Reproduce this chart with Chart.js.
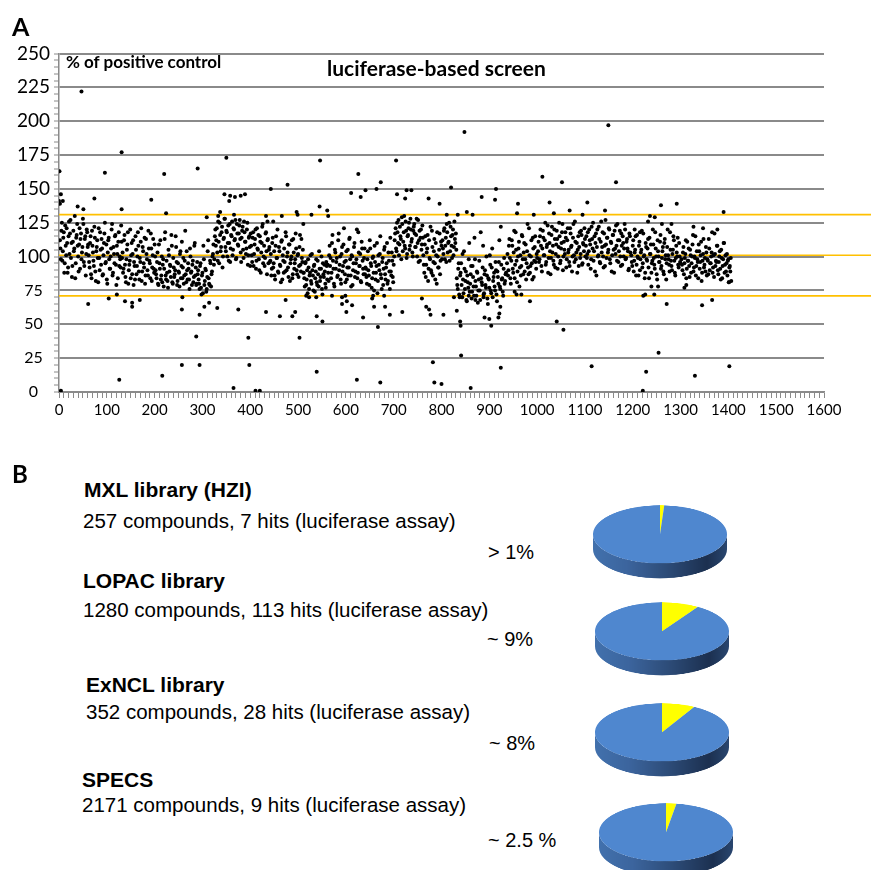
<!DOCTYPE html>
<html><head><meta charset="utf-8">
<script src="https://cdn.jsdelivr.net/npm/chart.js@4.4.1/dist/chart.umd.min.js"></script>
<style>
html,body{margin:0;padding:0;background:#fff;}
body{width:871px;height:870px;position:relative;overflow:hidden;}
.abs{position:absolute;white-space:nowrap;line-height:1;color:#000;}
.panel{font-family:Lato,sans-serif;font-weight:700;}
.lat{font-family:Lato,sans-serif;font-weight:700;}
.lib{font-family:"Liberation Sans",Arial,sans-serif;}
canvas.pie{position:absolute;transform:scaleY(0.433);transform-origin:0 0;}
</style></head><body>
<canvas id="scatter" width="871" height="430" style="position:absolute;left:0;top:0"></canvas>
<div id="overlay"></div>
<script>
// ---------- DATA (panel A) ----------
const yTickLabels = [0,25,50,75,100,125,150,175,200,225,250];
const xTickLabels = [0,100,200,300,400,500,600,700,800,900,1000,1100,1200,1300,1400,1500,1600];
const thresholdLines = [131, 101, 71];
const bandStep = 2;
// compounds read in two interleaved passes (even / odd compound numbers)
const bandStartEven = [2,62,132,202,292,322,402,442,512,562,642,702,762,802,832,937,1002,1102,1197,1302];
const bandValuesEven = [
 [112,98,125,104,118,95,108,121,88,115,102,127,110,93,119,106,84,114,124,100,109,91,117,103,128,96,113,86,120,107],
 [101,92,115,84,108,97,122,89,104,112,81,99,118,94,106,87,110,125,96,83,103,114,91,100,120,86,107,95,116,79,102,111,93,98,123],
 [99,88,112,94,81,105,118,90,97,84,110,102,79,93,115,87,100,108,83,96,121,89,104,92,80,113,98,86,106,95,117,82,101,91,109],
 [90,84,103,79,95,112,86,81,98,91,118,83,88,77,101,94,85,108,80,92,87,115,96,82,89,78,104,93,84,99,86,119,81,90,95,83,106,88,79,97,85,110,92,80,87],
 [83,76,95,72,88,108,79,91,74,85,112,80,97,78,89],
 [102,94,115,108,121,97,111,125,104,118,92,113,128,107,119,100,123,110,96,116,126,105,120,113,98,124,109,117,127,103,114,122,99,118,111,106,125,101,115,93],
 [108,96,118,102,113,91,121,105,98,115,88,110,124,100,93,117,104,112,95,107],
 [97,86,110,92,104,83,115,99,89,107,94,81,112,101,88,96,118,90,103,85,109,95,100,84,113,91,98,106,87,102,93,116,89,99,105],
 [88,78,96,83,73,92,86,101,80,90,75,94,84,98,79,87,104,82,91,76,95,85,89,77,93],
 [94,82,108,99,88,116,91,78,103,96,85,112,90,100,80,107,93,121,87,97,83,105,92,114,86,101,79,95,110,89,98,84,118,93,102,81,106,91,99,87],
 [91,80,104,86,112,95,77,99,88,108,83,93,73,101,90,115,84,96,79,105,87,92,110,82,97,76,89,103,85,94],
 [112,121,104,118,127,109,115,98,124,111,130,106,119,102,116,125,108,120,113,100,122,117,107,128,110,96,119,114,105,123],
 [101,88,115,94,106,82,112,98,90,119,86,104,95,110,80,100,92,117,97,108],
 [112,102,121,108,96,118,110,125,104,115,99,120,107,113,117],
 [84,76,95,70,88,79,102,73,91,82,68,86,77,110,80,93,74,85,71,98,78,89,66,83,75,118,81,92,72,87,79,100,69,84,77,94,73,106,82,88,75,90,67,85,96,78,122,83,74,91,80,87],
 [95,86,108,99,80,112,91,103,84,118,97,89,106,78,101,93,115,87,110,98,83,104,92,121,88,100,95,114,85,107,96,102],
 [104,96,115,108,89,119,101,112,94,107,123,99,110,87,116,103,97,120,92,109,113,100,125,95,106,118,90,111,102,114,98,121,105,93,117,108,100,124,96,111,103,88,115,107,99,119,94,110,104,113],
 [108,99,118,104,112,91,122,106,97,115,110,86,120,101,113,95,126,107,100,117,93,109,114,103,121,98,111,89,116,105,119,102,108,124,96,112,100,117,94,110,106,120,99,113,104,91,115],
 [101,93,112,97,105,86,116,99,108,90,103,119,95,100,84,110,98,106,92,114,102,88,97,109,94,118,100,83,104,96,111,91,99,107,87,113,101,95,120,98,89,105,93,102,115,97,86,108,100,94,110,96],
 [98,90,107,95,102,84,111,97,93,105,88,100,116,92,99,86,104,96,109,91,101,82,97,113,94,89,103,98,87,106,95,100,118,92,85,102,97,108,90,96,104,83,99,93,110,88,101,95,86,98,92,89]
];
const bandStartOdd = [3,63,133,203,293,323,403,443,513,563,643,703,763,803,833,938,1003,1103,1198,1303];
const bandValuesOdd = [
 [106,119,97,114,88,123,101,110,92,126,117,99,85,111,104,130,95,116,108,89,121,113,98,107,124,93,115,102,118,109],
 [96,110,87,119,103,93,114,82,107,99,121,90,105,113,86,101,117,95,109,80,112,98,91,106,124,88,102,115,94,108,84,118,100,92,111],
 [103,91,116,85,98,109,80,94,120,101,87,112,96,83,105,93,118,89,99,111,82,107,95,114,86,102,90,119,97,84,106,92,113,88,100],
 [87,96,80,109,91,83,100,94,78,113,86,97,82,105,89,93,116,81,99,85,90,107,79,95,88,102,84,111,92,80,97,87,104,83,91,76,100,89,94,81,108,86,79,96,90],
 [80,93,77,86,73,98,82,90,76,104,84,79,95,87,100],
 [109,98,120,112,103,126,95,116,107,122,100,114,128,104,118,110,97,124,106,115,101,121,112,127,99,117,108,123,113,96,119,105,126,111,102,120,94,114,107,117],
 [101,114,93,109,120,97,106,116,90,111,103,122,95,108,99,118,87,113,105,96],
 [102,91,114,95,86,108,99,120,88,104,93,111,83,97,106,89,115,100,92,109,82,98,112,87,103,95,117,90,101,85,107,94,113,96,88],
 [84,95,79,90,98,76,88,82,102,86,93,74,89,81,97,78,91,85,100,72,87,94,80,96,83],
 [88,101,93,84,110,97,80,105,91,99,86,117,94,83,102,89,109,96,81,104,92,86,113,98,78,100,90,107,85,95,120,88,103,93,82,111,97,87,106,92],
 [85,98,90,79,106,93,84,100,75,96,88,110,82,94,102,87,76,99,91,107,83,95,80,103,89,114,86,97,81,100],
 [117,106,125,110,101,122,113,129,104,118,108,126,99,115,121,105,128,111,103,119,124,107,116,100,127,112,97,120,109,114],
 [94,109,85,103,116,91,99,122,88,107,96,113,83,101,118,92,105,87,111,98],
 [106,119,98,114,124,103,111,97,122,108,116,101,126,110,105],
 [79,91,72,86,95,70,83,104,76,89,67,81,98,74,87,69,93,78,114,82,71,88,75,97,68,84,79,108,73,90,77,86,65,83,101,75,92,70,85,78,96,72,89,80,112,76,94,84,71,99,82,88],
 [102,90,113,84,97,108,88,119,94,105,81,100,111,92,86,116,98,103,89,109,95,124,87,101,93,112,83,106,97,115,91,99],
 [111,98,120,93,106,114,101,125,96,109,88,117,104,99,122,108,94,113,102,119,91,107,115,97,110,124,100,105,118,92,112,103,96,121,107,89,114,101,126,98,110,105,93,118,102,116,95,109,121,100],
 [115,102,94,120,109,98,113,125,104,89,117,107,100,122,96,111,103,118,92,108,127,99,114,105,120,95,110,101,116,88,106,123,97,112,104,119,93,108,115,100,124,98,111,106,90,117,103],
 [96,108,89,103,115,94,100,86,111,98,105,92,117,101,88,107,97,113,84,102,109,95,120,99,91,106,87,112,100,96,116,93,104,89,110,98,83,107,101,94,118,97,90,105,112,88,99,103,114,92,100,95],
 [94,103,87,99,112,91,97,106,85,101,95,109,89,100,115,93,98,84,104,96,111,88,102,92,99,107,86,97,113,90,95,103,88,101,117,93,96,108,87,100,91,105,84,98,110,94,89,102,97,81,93,99]
];
const outlierX = [0,1,2,4,8,4,39,47,51,61,74,96,104,121,126,131,131,138,153,153,169,193,216,220,224,257,257,258,287,290,294,294,304,309,314,331,333,337,346,350,356,358,365,366,368,375,380,389,396,398,411,420,433,433,436,443,448,462,466,474,478,488,494,497,499,503,511,517,523,528,538,539,539,545,546,551,561,563,571,592,592,599,601,602,611,613,623,626,631,636,641,655,657,659,664,667,672,673,680,682,692,705,707,718,724,727,737,759,768,773,774,777,782,785,796,800,804,811,820,826,832,834,839,840,841,843,848,853,857,861,865,871,884,888,890,900,904,912,914,919,921,923,924,953,957,958,960,967,985,993,1011,1026,1035,1041,1052,1055,1068,1095,1105,1114,1142,1149,1165,1204,1215,1221,1222,1226,1228,1232,1236,1239,1245,1246,1253,1254,1259,1261,1271,1281,1292,1308,1312,1327,1330,1345,1347,1366,1377,1390,1401,1402,1406];
const outlierY = [141,163,139,146,141,1,137,222,135,65,143,162,69,72,9,177,135,67,66,63,68,142,12,161,132,20,61,70,41,165,20,57,63,129,66,62,130,133,146,173,141,145,3,131,144,61,145,146,40,20,1,1,130,59,126,150,126,56,130,68,153,56,59,133,131,40,124,71,70,131,70,15,56,137,171,52,134,130,71,70,65,71,59,67,147,64,9,161,144,55,149,69,71,63,150,48,7,155,71,63,57,171,146,59,143,149,149,69,63,143,61,57,22,7,139,6,57,131,151,70,60,131,52,49,27,70,192,133,71,3,131,68,144,70,55,54,49,142,150,55,58,63,18,74,72,132,139,72,67,131,159,140,132,52,155,46,134,131,140,19,134,197,155,120,118,1,71,72,15,126,130,78,72,129,78,29,138,124,65,124,139,77,79,122,12,64,121,68,120,133,81,19,82];

// ---------- DATA (panel B) ----------
const libraryNames = ['MXL library (HZI)', 'LOPAC library', 'ExNCL library', 'SPECS'];
const compoundCounts = [257, 1280, 352, 2171];
const hitCounts = [7, 113, 28, 9];
const hitShareLabels = ['> 1%', '~ 9%', '~ 8%', '~ 2.5 %'];
const hitSharePct = [1, 9, 8, 2.5];

// ---------- LAYOUT ----------
const GRID = '#8a8a8a';
const ORANGE = '#FFC000';
const blockLayout = [
  {title:[84,479], line:[83,511], pct:[488,542], pie:[660,534]},
  {title:[83,570], line:[83,600], pct:[487,629], pie:[662,631]},
  {title:[86,674], line:[86,702], pct:[489,733], pie:[662,732]},
  {title:[82,769], line:[82,795], pct:[488,830], pie:[666,832]}
];

const overlay = document.getElementById('overlay');
function addText(txt, x, y, cls, size) {
  const d = document.createElement('div');
  d.className = 'abs ' + cls;
  d.style.left = x + 'px'; d.style.top = y + 'px'; d.style.fontSize = size + 'px';
  d.textContent = txt;
  overlay.appendChild(d);
  return d;
}
addText('A', 12, 14, 'panel', 25);
addText('B', 12, 462, 'panel', 24);
addText('% of positive control', 66, 53, 'lat', 17);
addText('luciferase-based screen', 327, 57, 'lat', 21);

// ---------- PANEL A ----------
const points = [];
function addBand(starts, values) {
  values.forEach((seg, s) => seg.forEach((v, k) => points.push({x: starts[s] + k * bandStep, y: v})));
}
addBand(bandStartEven, bandValuesEven);
addBand(bandStartOdd, bandValuesOdd);
outlierX.forEach((x, i) => points.push({x: x, y: outlierY[i]}));

const thresholdPlugin = {
  id: 'thresholds',
  beforeDatasetsDraw(chart) {
    const {ctx, chartArea, scales} = chart;
    ctx.save();
    ctx.strokeStyle = ORANGE; ctx.lineWidth = 1.6;
    thresholdLines.forEach(v => {
      const y = scales.y.getPixelForValue(v);
      ctx.beginPath(); ctx.moveTo(chartArea.left, y); ctx.lineTo(chart.width, y); ctx.stroke();
    });
    ctx.restore();
  }
};

new Chart(document.getElementById('scatter'), {
  type: 'scatter',
  data: {datasets: [{data: points, backgroundColor: '#000', borderWidth: 0, pointRadius: 2}]},
  options: {
    responsive: false, animation: false, devicePixelRatio: 1,
    layout: {padding: {top: 53.5, right: 47, bottom: 0, left: 0}},
    plugins: {legend: {display: false}, tooltip: {enabled: false}},
    events: [],
    scales: {
      x: {
        type: 'linear', min: xTickLabels[0], max: xTickLabels[xTickLabels.length - 1],
        afterFit(s) { s.height = 38; },
        ticks: {stepSize: 10, autoSkip: false, maxRotation: 0, minRotation: 0, padding: 3,
          color: '#000', font: {family: 'Lato', size: 15},
          callback: v => xTickLabels.includes(v) ? String(v) : ''},
        grid: {drawOnChartArea: false, color: GRID, tickColor: GRID, tickLength: 6, tickWidth: 1},
        border: {color: GRID, width: 1.5}
      },
      y: {
        min: yTickLabels[0], max: yTickLabels[yTickLabels.length - 1],
        afterFit(s) { s.width = 59; },
        ticks: {stepSize: 5, autoSkip: false, padding: 4, crossAlign: 'center', color: '#000',
          font: c => ({family: 'Lato', size: (c.tick && c.tick.value >= 100) ? 19 : 16}),
          callback: v => yTickLabels.includes(v) ? String(v) : ''},
        grid: {color: c => (c.tick && yTickLabels.includes(c.tick.value)) ? GRID : 'rgba(0,0,0,0)',
          lineWidth: 2, tickColor: GRID, tickLength: 5, tickWidth: 1},
        border: {color: GRID, width: 1.5}
      }
    }
  },
  plugins: [thresholdPlugin]
});

// ---------- PANEL B ----------
const PIE_R = 67, PIE_PAD = 3, SQUASH = 0.433, DEPTH = 15;
const depthInternal = DEPTH / SQUASH;
const sidePlugin = {
  id: 'pieSide',
  beforeDatasetsDraw(chart) {
    const arc = chart.getDatasetMeta(0).data[0];
    if (!arc) return;
    const {x, y, outerRadius: r} = arc.getProps(['x', 'y', 'outerRadius'], true);
    const d = depthInternal;
    const ctx = chart.ctx;
    ctx.save();
    ctx.beginPath();
    ctx.moveTo(x + r, y);
    ctx.lineTo(x + r, y + d);
    ctx.arc(x, y + d, r, 0, Math.PI, false);
    ctx.lineTo(x - r, y);
    ctx.arc(x, y, r, Math.PI, 0, true);
    ctx.closePath();
    const g = ctx.createLinearGradient(x - r, 0, x + r, 0);
    g.addColorStop(0, '#4271ad');
    g.addColorStop(0.25, '#3c659e');
    g.addColorStop(0.55, '#2d4c78');
    g.addColorStop(0.85, '#1c3050');
    g.addColorStop(1, '#29466f');
    ctx.fillStyle = g; ctx.fill();
    ctx.restore();
  }
};

libraryNames.forEach((name, i) => {
  const L = blockLayout[i];
  addText(name, L.title[0], L.title[1], 'lib', 21).style.fontWeight = '700';
  addText(compoundCounts[i] + ' compounds, ' + hitCounts[i] + ' hits (luciferase assay)', L.line[0], L.line[1], 'lib', 20.5);
  addText(hitShareLabels[i], L.pct[0], L.pct[1], 'lib', 20);

  const cv = document.createElement('canvas');
  const W = 2 * (PIE_R + PIE_PAD), H = W + Math.ceil(depthInternal) + 2;
  cv.width = W; cv.height = H; cv.className = 'pie';
  cv.style.width = W + 'px'; cv.style.height = H + 'px';
  cv.style.left = (L.pie[0] - W / 2) + 'px';
  cv.style.top = (L.pie[1] - (PIE_R + PIE_PAD) * SQUASH) + 'px';
  document.body.appendChild(cv);
  new Chart(cv, {
    type: 'pie',
    data: {labels: ['hits', 'other'], datasets: [{data: [hitSharePct[i], 100 - hitSharePct[i]],
      backgroundColor: ['#FFFF00', '#4f87cf'], borderWidth: 0}]},
    options: {responsive: false, animation: false, devicePixelRatio: 1, events: [],
      layout: {padding: {top: PIE_PAD, left: PIE_PAD, right: PIE_PAD, bottom: H - W + PIE_PAD}},
      plugins: {legend: {display: false}, tooltip: {enabled: false}}},
    plugins: [sidePlugin]
  });
});
</script>
</body></html>
